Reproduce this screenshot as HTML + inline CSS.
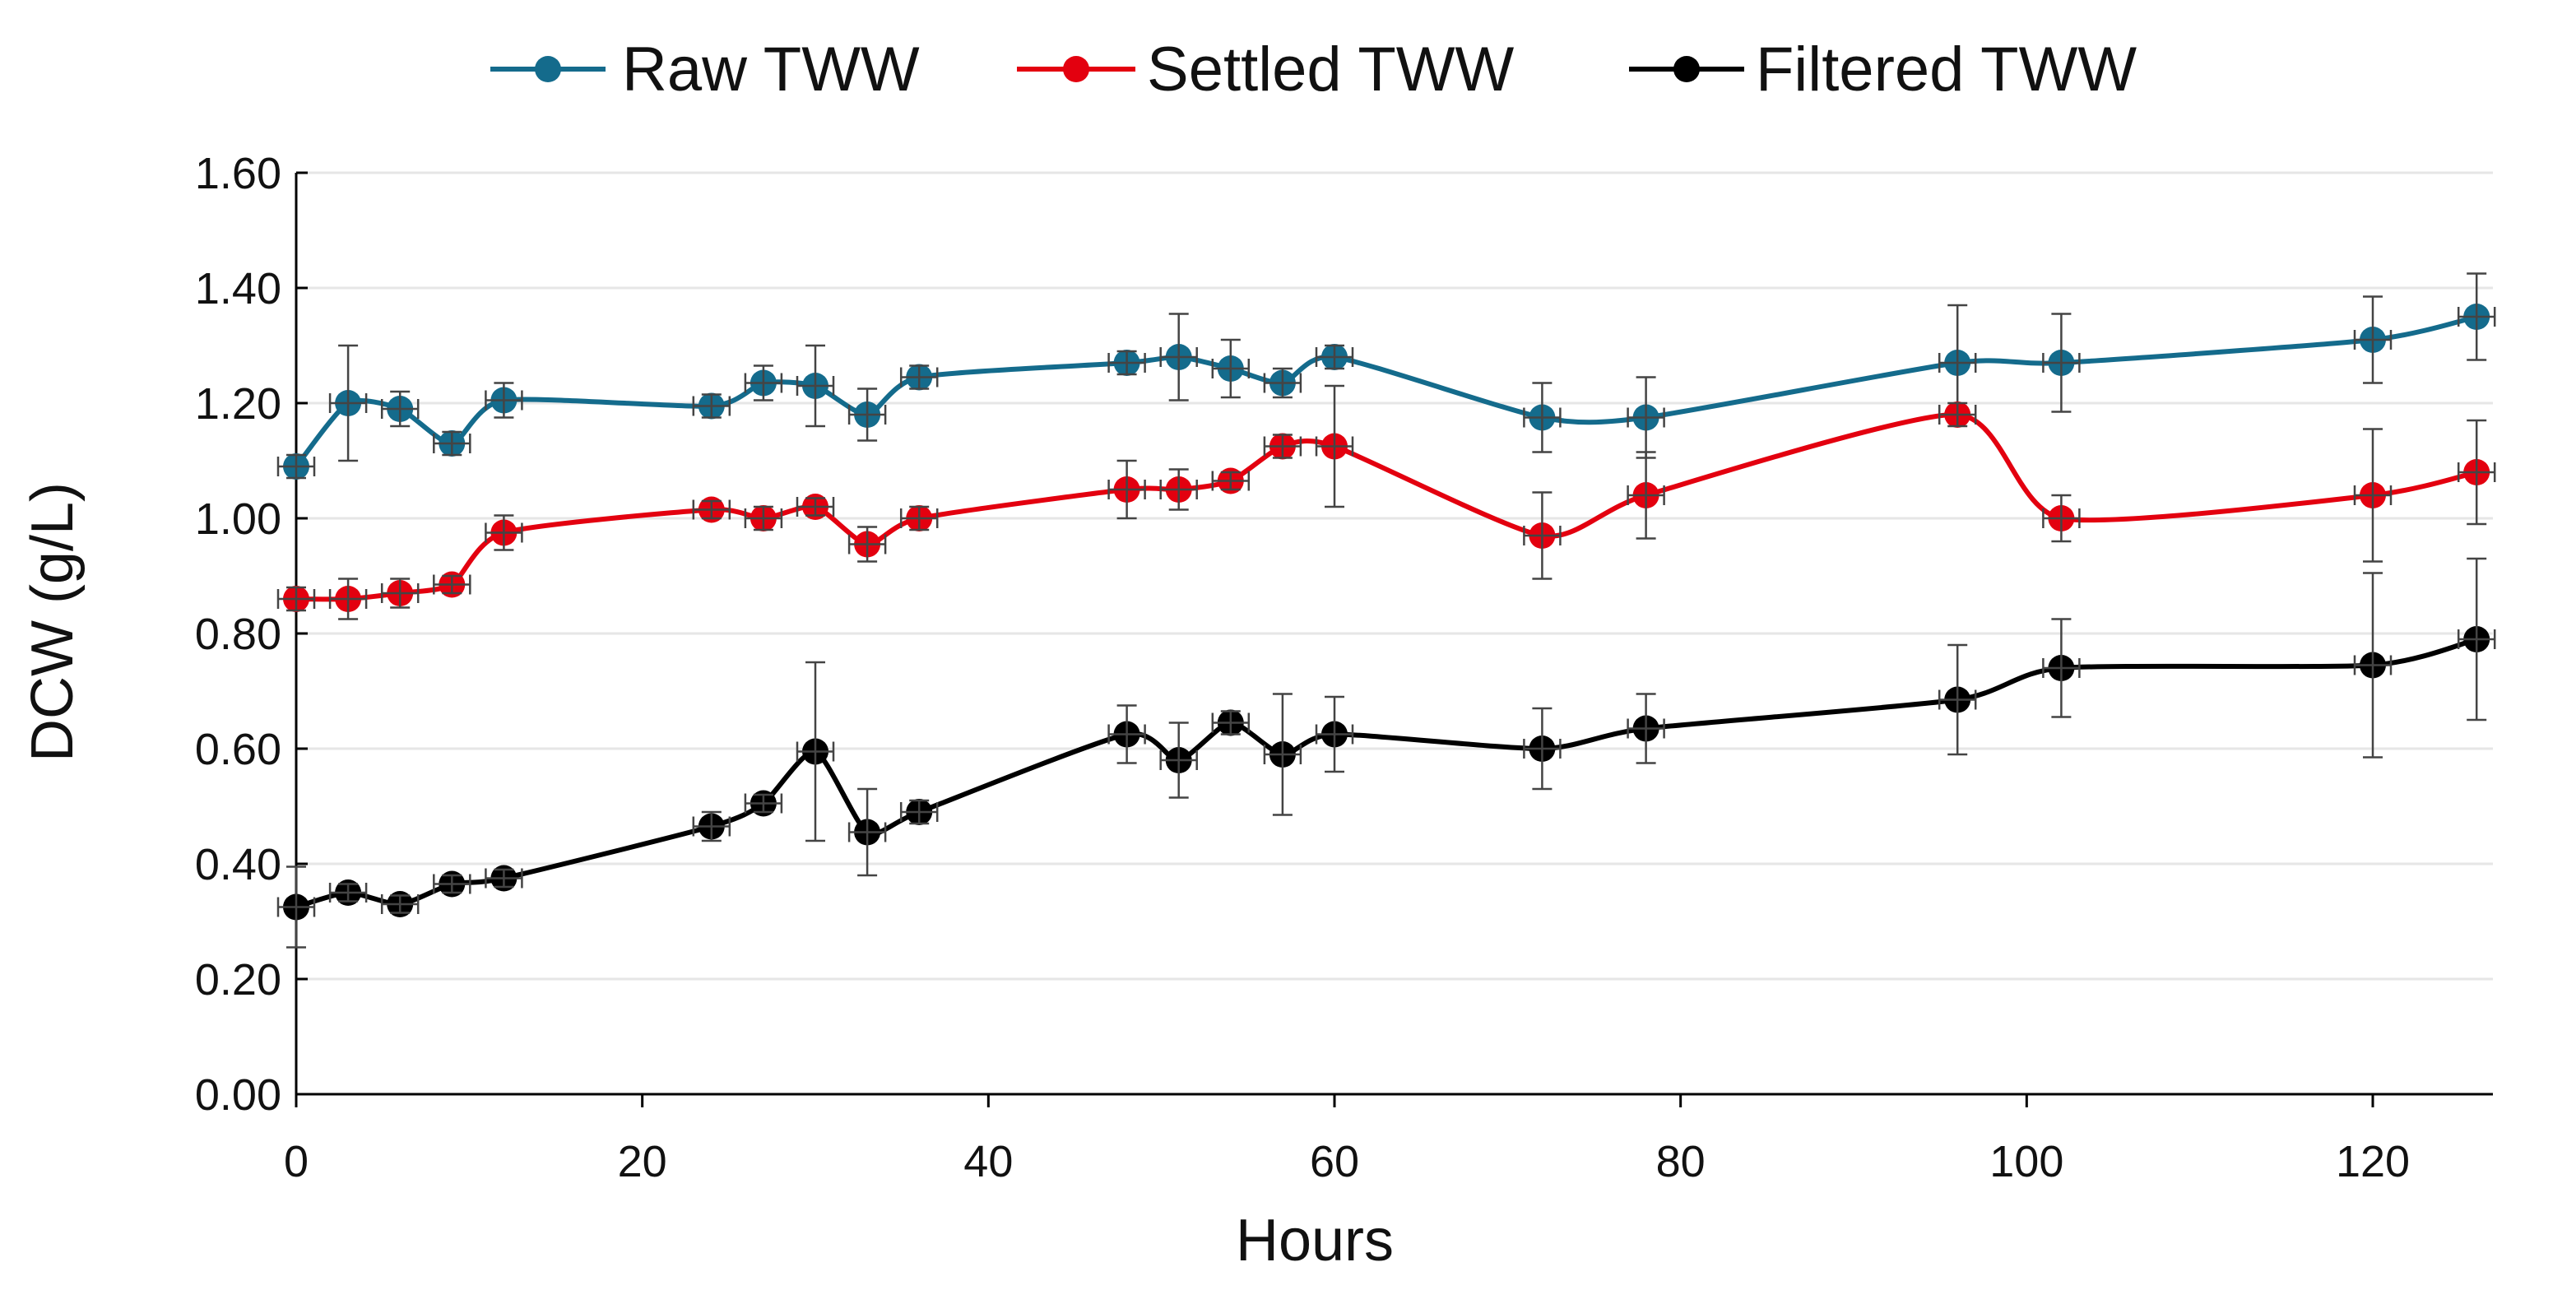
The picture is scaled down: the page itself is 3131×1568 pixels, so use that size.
<!DOCTYPE html>
<html><head><meta charset="utf-8"><style>
html,body{margin:0;padding:0;background:#fff;}
svg{display:block;font-family:"Liberation Sans",sans-serif;}
</style></head><body>
<svg id="chart" width="3131" height="1568" viewBox="0 0 3131 1568" xmlns="http://www.w3.org/2000/svg">
<g id="grid"></g>
<g id="axes"></g>
<g id="series"></g>
<g id="legend"></g>
<text x="1598" y="1532" font-size="72" text-anchor="middle" fill="#111">Hours</text>
<text x="0" y="0" transform="translate(88,756) rotate(-90)" font-size="72" text-anchor="middle" fill="#111">DCW (g/L)</text>
</svg>
<script>
const hours=[0,3,6,9,12,24,27,30,33,36,48,51,54,57,60,72,78,96,102,120,126];
const rawVals=[1.09,1.20,1.19,1.13,1.205,1.195,1.235,1.23,1.18,1.245,1.27,1.28,1.26,1.235,1.28,1.175,1.175,1.27,1.27,1.31,1.35];
const rawErr=[0.02,0.1,0.03,0.02,0.03,0.02,0.03,0.07,0.045,0.02,0.02,0.075,0.05,0.025,0.02,0.06,0.07,0.1,0.085,0.075,0.075];
const settledVals=[0.86,0.86,0.87,0.885,0.975,1.015,1.0,1.02,0.955,1.0,1.05,1.05,1.065,1.125,1.125,0.97,1.04,1.18,1.0,1.04,1.08];
const settledErr=[0.02,0.035,0.025,0.015,0.03,0.015,0.02,0.015,0.03,0.02,0.05,0.035,0.015,0.02,0.105,0.075,0.075,0.02,0.04,0.115,0.09];
const filteredVals=[0.325,0.35,0.33,0.365,0.375,0.465,0.505,0.595,0.455,0.49,0.625,0.58,0.645,0.59,0.625,0.6,0.635,0.685,0.74,0.745,0.79];
const filteredErr=[0.07,0.015,0.015,0.015,0.015,0.025,0.015,0.155,0.075,0.02,0.05,0.065,0.02,0.105,0.065,0.07,0.06,0.095,0.085,0.16,0.14];
const yTicks=["0.00","0.20","0.40","0.60","0.80","1.00","1.20","1.40","1.60"];
const xTicks=[0,20,40,60,80,100,120];
const seriesNames=["Raw TWW","Settled TWW","Filtered TWW"];

const NS="http://www.w3.org/2000/svg";
const X0=360,X1=3030,Y0=1330,Y1=210;
const xs=h=>X0+h*(2884-360)/120;
const ys=v=>Y0-v*(Y0-Y1)/1.6;
function mk(tag,attrs,parent){const e=document.createElementNS(NS,tag);for(const k in attrs)e.setAttribute(k,attrs[k]);parent.appendChild(e);return e;}
const grid=document.getElementById('grid'),axes=document.getElementById('axes'),ser=document.getElementById('series'),leg=document.getElementById('legend');

yTicks.forEach(t=>{const v=parseFloat(t),y=ys(v);
 if(v>0){const g=mk('line',{x1:X0,x2:X1,y1:y,y2:y,stroke:'#e6e6e6','stroke-width':3},grid);
 
 }
 const tk=mk('line',{x1:X0,x2:X0+14,y1:y,y2:y,stroke:'#000','stroke-width':3},axes);
 
 
 const tx=mk('text',{x:342,y:y+19,'font-size':54,'text-anchor':'end',fill:'#111'},axes);tx.textContent=t;
 
 
});
xTicks.forEach(h=>{const x=xs(h);
 const tk=mk('line',{x1:x,x2:x,y1:Y0,y2:Y0+16,stroke:'#000','stroke-width':3},axes);
 
 
 const tx=mk('text',{x:x,y:1430,'font-size':54,'text-anchor':'middle',fill:'#111'},axes);tx.textContent=h;
 
 
});
const ya=mk('line',{x1:X0,x2:X0,y1:Y1,y2:Y0,stroke:'#000','stroke-width':3},axes);


const xa=mk('line',{x1:X0,x2:X1,y1:Y0,y2:Y0,stroke:'#000','stroke-width':3},axes);



function smooth(pts){let d=`M${pts[0][0]},${pts[0][1]}`;const t=0.11;
 for(let i=0;i<pts.length-1;i++){const p0=pts[i-1]||pts[i],p1=pts[i],p2=pts[i+1],p3=pts[i+2]||p2;
  d+=` C${p1[0]+(p2[0]-p0[0])*t},${p1[1]+(p2[1]-p0[1])*t} ${p2[0]-(p3[0]-p1[0])*t},${p2[1]-(p3[1]-p1[1])*t} ${p2[0]},${p2[1]}`;}
 return d;}
const colors=["#146b8c","#e3000f","#000000"];
const allVals=[rawVals,settledVals,filteredVals],allErr=[rawErr,settledErr,filteredErr];
allVals.forEach((vals,s)=>{
 const g=mk('g',{},ser);
 
 
 const pts=hours.map((h,i)=>[xs(h),ys(vals[i])]);
 const ln=mk('path',{d:smooth(pts),fill:'none',stroke:colors[s],'stroke-width':6},g);
 
 
 pts.forEach((p,i)=>{
  const m=mk('circle',{cx:p[0],cy:p[1],r:16,fill:colors[s]},g);
  
  
 });
 pts.forEach((p,i)=>{
  const e=allErr[s][i],yt=ys(vals[i]+e),yb=ys(vals[i]-e),hx=22;
  const eb=mk('path',{d:`M${p[0]},${yt}V${yb}M${p[0]-12},${yt}H${p[0]+12}M${p[0]-12},${yb}H${p[0]+12}M${p[0]-hx},${p[1]}H${p[0]+hx}M${p[0]-hx},${p[1]-12}V${p[1]+12}M${p[0]+hx},${p[1]-12}V${p[1]+12}`,fill:'none',stroke:'#444','stroke-width':2.5},g);
  
  
 });
});
const legX=[[596,736,756],[1236,1380,1394],[1980,2120,2134]];
seriesNames.forEach((n,s)=>{const [a,b,tx]=legX[s];const g=mk('g',{},leg);
 
 
 mk('line',{x1:a,x2:b,y1:84,y2:84,stroke:colors[s],'stroke-width':6},g);
 mk('circle',{cx:(a+b)/2,cy:84,r:16,fill:colors[s]},g);
 const t=mk('text',{x:tx,y:110,'font-size':76,fill:'#111'},g);t.textContent=n;
});
</script>
</body></html>
